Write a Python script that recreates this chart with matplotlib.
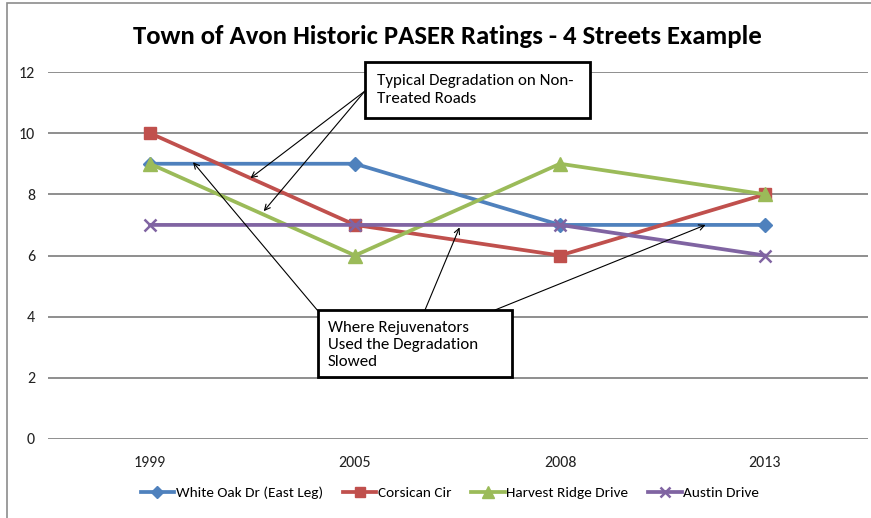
import matplotlib.pyplot as plt
from matplotlib.patches import Rectangle

years = ['1999', '2005', '2008', '2013']
white_oak = [9, 9, 7, 7]
corsican = [10, 7, 6, 8]
harvest = [9, 6, 9, 8]
austin = [7, 7, 7, 6]

W, H = 871, 518
plt.rcParams['font.family'] = ['Carlito', 'DejaVu Sans']

fig = plt.figure(figsize=(W / 100, H / 100), dpi=100)
ax = fig.add_axes([47.5 / W, 1 - 439 / H, 820 / W, 367 / H])

x = range(len(years))
ax.plot(x, white_oak, color='#4F81BD', lw=2.7, marker='D', ms=7.5, label='White Oak Dr (East Leg)')
ax.plot(x, corsican, color='#C0504D', lw=2.7, marker='s', ms=8.5, label='Corsican Cir')
ax.plot(x, harvest, color='#9BBB59', lw=2.7, marker='^', ms=9.5, label='Harvest Ridge Drive')
ax.plot(x, austin, color='#8064A2', lw=2.7, marker='x', ms=8.5, mew=1.8, label='Austin Drive')

ax.set_xlim(-0.5, 3.5)
ax.set_ylim(0, 12)
ax.set_yticks(range(0, 13, 2))
ax.set_xticks(list(x))
ax.set_xticklabels(years)
ax.grid(axis='y', color='#868686', lw=1.3)
ax.set_axisbelow(True)
for s in ax.spines.values():
    s.set_visible(False)
ax.tick_params(length=0, labelsize=11.5, colors='#222222')
ax.tick_params(axis='y', pad=9)
ax.tick_params(axis='x', pad=12)

fig.text(447 / W, 1 - 36 / H, 'Town of Avon Historic PASER Ratings - 4 Streets Example',
         ha='center', va='center', fontsize=19.3, fontweight='bold')

ax.legend(loc='center', bbox_to_anchor=(450 / W, 1 - 493 / H), bbox_transform=fig.transFigure,
          ncol=4, frameon=False, fontsize=11, handlelength=2.2, handletextpad=0.1,
          columnspacing=1.3, markerscale=0.85)

# outer chart border
fig.add_artist(Rectangle((7 / W, -0.05), 1.2, 1 - 3 / H + 0.05, transform=fig.transFigure,
                         fill=False, ec='#8c8c8c', lw=1.2))


def px(a, b):
    return (a / W, 1 - b / H)


arrow = dict(arrowstyle='->', color='black', lw=0.8, shrinkA=0, shrinkB=0)
# arrows from first box
for tip in [(0.49, 8.53), (0.555, 7.45)]:
    ax.annotate('', xy=tip, xytext=px(365, 91), textcoords='figure fraction', arrowprops=arrow)
# arrows from second box
ax.annotate('', xy=(0.21, 9.05), xytext=px(318, 311), textcoords='figure fraction', arrowprops=arrow)
ax.annotate('', xy=(1.51, 6.92), xytext=px(425, 310), textcoords='figure fraction', arrowprops=arrow)
ax.annotate('', xy=(2.71, 7.0), xytext=px(495, 310), textcoords='figure fraction', arrowprops=arrow)

fig.add_artist(Rectangle(px(365, 118), 225 / W, 56 / H, transform=fig.transFigure,
                         fc='white', ec='black', lw=2, zorder=5))
fig.text(*px(377, 90), 'Typical Degradation on Non-\nTreated Roads', ha='left', va='center',
         fontsize=12.2, linespacing=1.45, zorder=6)

fig.add_artist(Rectangle(px(318, 377), 194 / W, 67 / H, transform=fig.transFigure,
                         fc='white', ec='black', lw=2, zorder=5))
fig.text(*px(328, 345), 'Where Rejuvenators\nUsed the Degradation\nSlowed', ha='left', va='center',
         fontsize=12.2, linespacing=1.3, zorder=6)

fig.savefig('out.png', dpi=100)
